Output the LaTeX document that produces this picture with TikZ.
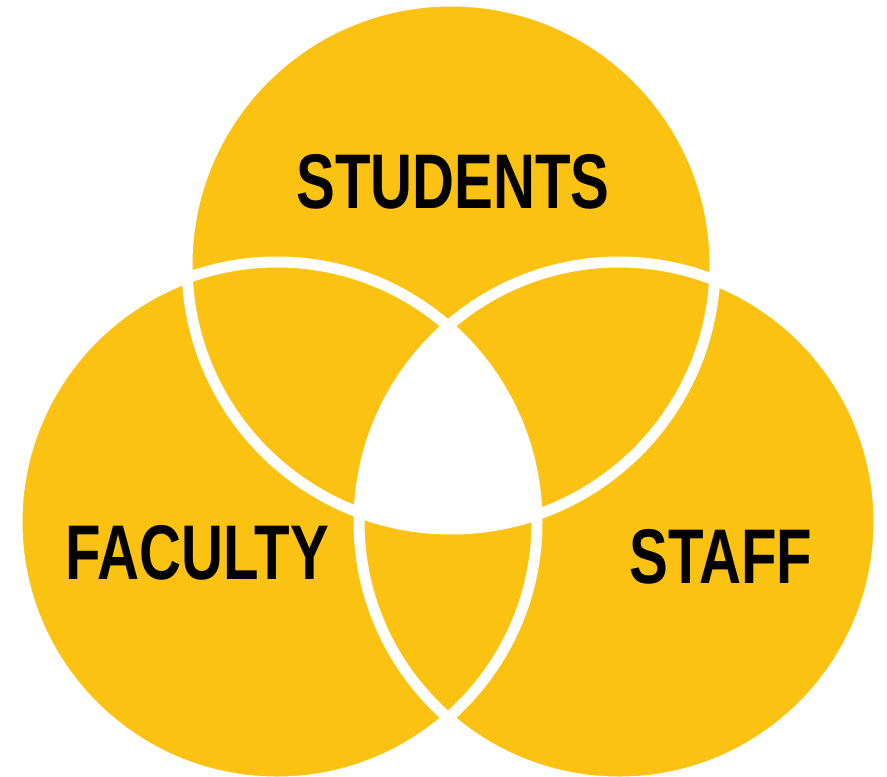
\documentclass[tikz,border=0pt]{standalone}
\usepackage{fontspec}
\usetikzlibrary{positioning}
\newfontfamily\vennfont[FakeStretch=0.75]{Liberation Sans}
\definecolor{vgold}{RGB}{251,194,18}
\tikzset{
  grouplabel/.style={font=\vennfont\bfseries\fontsize{77.5pt}{80pt}\selectfont,anchor=base,inner sep=0pt},
  ring/.style={draw=white,line width=11pt},
}

\begin{document}
\begin{tikzpicture}[x=1pt,y=-1pt]
  \useasboundingbox (0,0) rectangle (887,777);
  \coordinate (students) at (451,265);
  \coordinate (faculty) at (277,522);
  \coordinate (staff) at (619,522);
  % discs
  \fill[vgold] (students) circle (264pt) (faculty) circle (260pt) (staff) circle (260pt);
  % centre left blank
  \begin{scope}
    \clip (students) circle (264pt);
    \clip (faculty) circle (260pt);
    \fill[white] (staff) circle (260pt);
  \end{scope}
  \draw[ring] (students) circle (264pt);
  \draw[ring] (faculty) circle (260pt);
  \draw[ring] (staff) circle (260pt);
  \node[grouplabel] (studentstxt) at (453,208) {STUDENTS};
  \node[grouplabel] (facultytxt) at (197,579) {FACULTY};
  \node[grouplabel] (stafftxt) at (721,583) {STAFF};
\end{tikzpicture}
\end{document}
